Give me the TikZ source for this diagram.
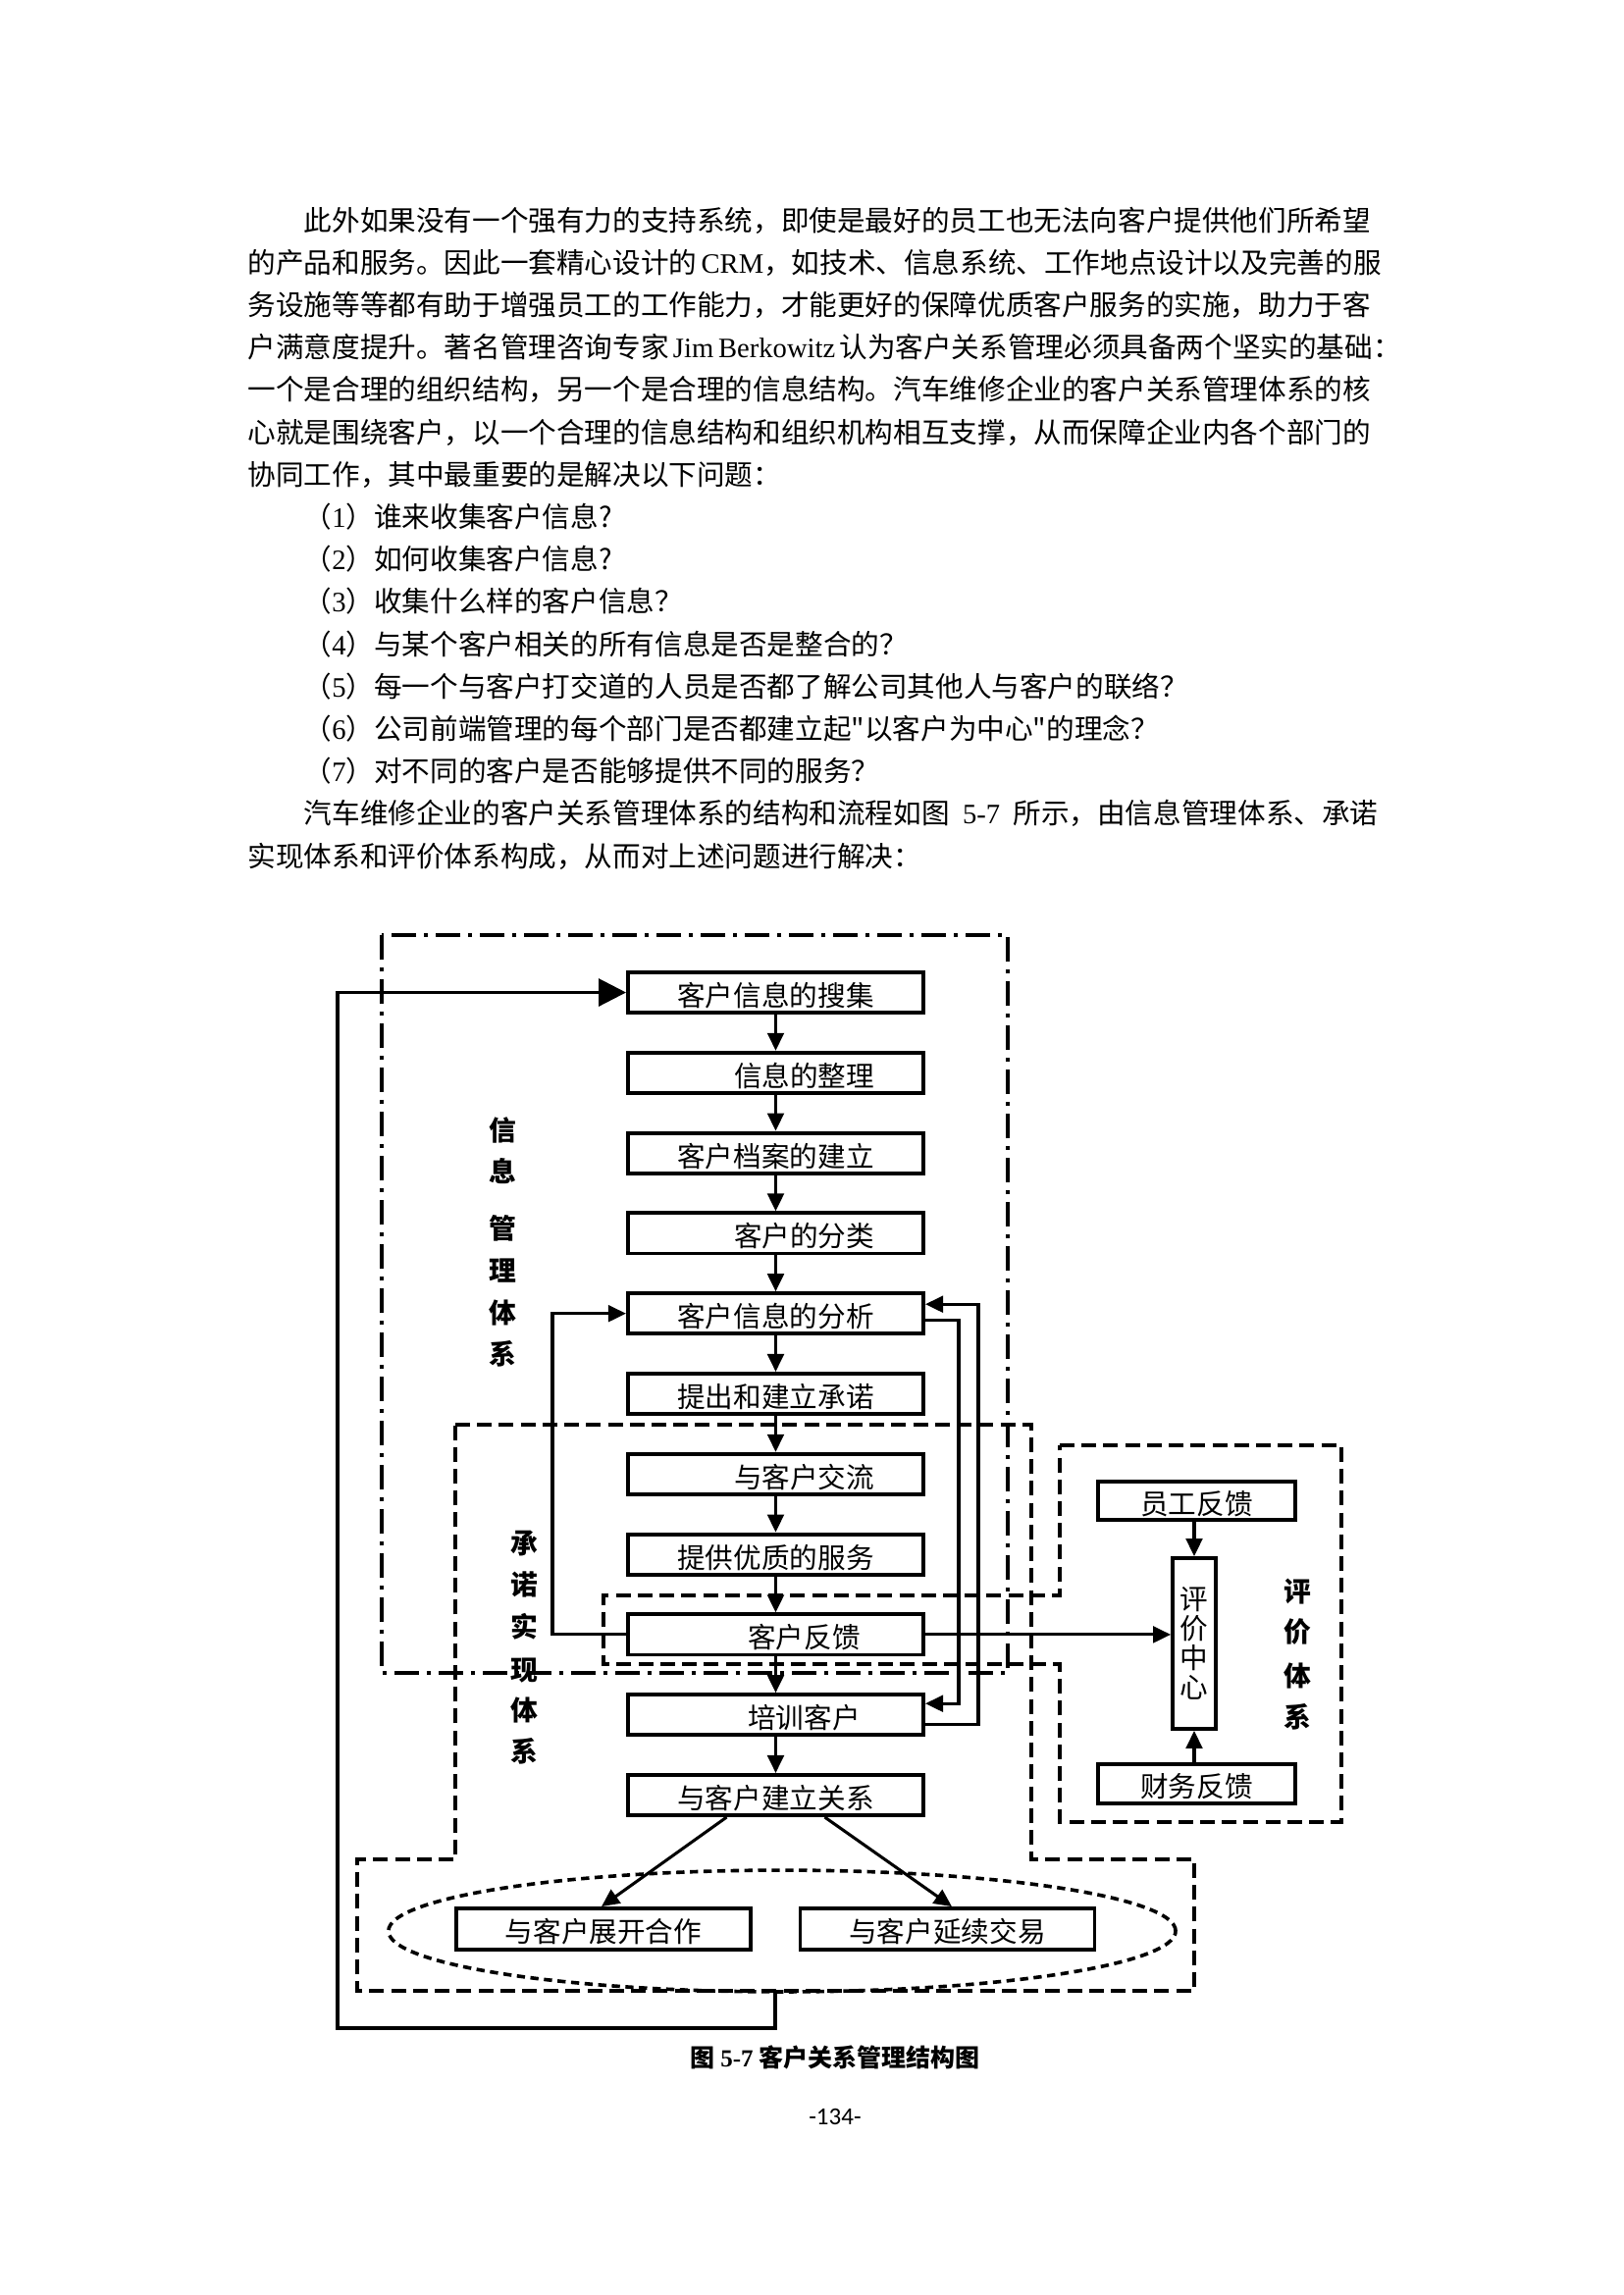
\documentclass[tikz,border=0pt]{standalone}
\usepackage{fontspec}
\setmainfont{Liberation Serif}
\newfontfamily\cjk{Noto Sans CJK SC}
\newfontfamily\pnum{Carlito}
\usetikzlibrary{arrows.meta,calc,shapes.geometric}
\XeTeXlinebreaklocale "zh"
\XeTeXlinebreakskip=0pt plus 2pt minus 0.6pt
\newcommand\jline[1]{\hbox to 414.7pt{#1}}
\newcommand\lat[1]{{\rmfamily #1}}
\newcommand\sh{\hspace*{20.9pt}}
\tikzset{
  txt/.style={anchor=base west, inner sep=0pt, font=\cjk\fontsize{10.3}{12}\selectfont},
  box/.style={draw, line width=1.4pt, inner sep=0pt, minimum width=108.4pt, minimum height=14.8pt,
    font=\cjk\fontsize{10.3}{12}\selectfont, text height=1em, text depth=0pt},
  arr/.style={line width=1.1pt, -{Triangle[length=6.5pt,width=6pt]}},
  bigarr/.style={line width=1.1pt, -{Triangle[length=10pt,width=10pt]}},
  ddot/.style={line width=1.3pt, dash pattern=on 9pt off 2.8pt on 1.6pt off 2.8pt},
  dsh/.style={line width=1.5pt, dash pattern=on 5.4pt off 2.6pt},
  dshell/.style={line width=1.3pt, dash pattern=on 3pt off 2pt},
  vlbl/.style={inner sep=0pt, font=\cjk\bfseries\fontsize{10}{12}\selectfont, text height=0.8em, text depth=0.05em},
}
\begin{document}
\begin{tikzpicture}[x=0.36pt,y=-0.36pt]
\fill[white] (0,0) rectangle (1654,2339);
\useasboundingbox (0,0) rectangle (1654,2339);

% ---------- text ----------
\node[txt] (p1) at (252,235) {\jline{\hspace*{2em}此外如果没有一个强有力的支持系统，即使是最好的员工也无法向客户提供他们所希望}};
\node[txt] (p2) at (252,278.2) {\jline{的产品和服务。因此一套精心设计的 \lat{CRM}，如技术、信息系统、工作地点设计以及完善的服}};
\node[txt] (p3) at (252,321.4) {\jline{务设施等等都有助于增强员工的工作能力，才能更好的保障优质客户服务的实施，助力于客}};
\node[txt] (p4) at (252,364.6) {\jline{户满意度提升。著名管理咨询专家 \lat{Jim Berkowitz} 认为客户关系管理必须具备两个坚实的基础：}};
\node[txt] (p5) at (252,407.8) {\jline{一个是合理的组织结构，另一个是合理的信息结构。汽车维修企业的客户关系管理体系的核}};
\node[txt] (p6) at (252,451) {\jline{心就是围绕客户，以一个合理的信息结构和组织机构相互支撑，从而保障企业内各个部门的}};
\node[txt] (p7) at (252,494.2) {协同工作，其中最重要的是解决以下问题：};
\node[txt] (q1) at (252,537.4) {\hspace*{2em}（\lat{1}）谁来收集客户信息?};
\node[txt] (q2) at (252,580.6) {\hspace*{2em}（\lat{2}）如何收集客户信息?};
\node[txt] (q3) at (252,623.8) {\hspace*{2em}（\lat{3}）收集什么样的客户信息？};
\node[txt] (q4) at (252,667) {\hspace*{2em}（\lat{4}）与某个客户相关的所有信息是否是整合的？};
\node[txt] (q5) at (252,710.2) {\hspace*{2em}（\lat{5}）每一个与客户打交道的人员是否都了解公司其他人与客户的联络？};
\node[txt] (q6) at (252,753.4) {\hspace*{2em}（\lat{6}）公司前端管理的每个部门是否都建立起"以客户为中心"的理念？};
\node[txt] (q7) at (252,796.6) {\hspace*{2em}（\lat{7}）对不同的客户是否能够提供不同的服务？};
\node[txt] (p8) at (252,839.8) {\jline{\hspace*{2em}汽车维修企业的客户关系管理体系的结构和流程如图 \lat{5-7} 所示，由信息管理体系、承诺}};
\node[txt] (p9) at (252,883) {实现体系和评价体系构成，从而对上述问题进行解决：};

% ---------- regions ----------
\draw[ddot] (389,953) rectangle (1027,1705);
\draw[dsh] (464,1452) -- (1051,1452) -- (1051,1895) -- (1217,1895) -- (1217,2029)
  -- (364,2029) -- (364,1895) -- (464,1895) -- cycle;
\draw[dsh] (1080,1473) -- (1367,1473) -- (1367,1857) -- (1080,1857) -- (1080,1696)
  -- (615,1696) -- (615,1626) -- (1080,1626) -- cycle;
\draw[dshell] (797,1968) ellipse [x radius=144.4pt, y radius=22.3pt];

% ---------- boxes ----------
\node[box] (b1) at (790.5,1011.5) {客户信息的搜集};
\node[box] (b2) at (790.5,1093.3) {\sh 信息的整理};
\node[box] (b3) at (790.5,1175.1) {客户档案的建立};
\node[box] (b4) at (790.5,1256.9) {\sh 客户的分类};
\node[box] (b5) at (790.5,1338.7) {客户信息的分析};
\node[box] (b6) at (790.5,1420.5) {提出和建立承诺};
\node[box] (b7) at (790.5,1502.3) {\sh 与客户交流};
\node[box] (b8) at (790.5,1584.1) {提供优质的服务};
\node[box] (b9) at (790.5,1665.9) {\sh 客户反馈};
\node[box] (b10) at (790.5,1747.7) {\sh 培训客户};
\node[box] (b11) at (790.5,1829.5) {与客户建立关系};
\node[box, minimum width=108pt, minimum height=15.1pt] (b12) at (615,1966) {与客户展开合作};
\node[box, minimum width=108pt, minimum height=15.1pt] (b13) at (965.5,1966) {与客户延续交易};

\node[box, minimum width=72.4pt, minimum height=14.2pt] (ygfk) at (1219.5,1529.5) {员工反馈};
\node[box, minimum width=72.4pt, minimum height=14.4pt] (cwfk) at (1219.5,1818) {财务反馈};
\node[box, minimum width=15.8pt, minimum height=62.6pt, align=center, text height={}, text depth={},
  font=\cjk\fontsize{10.3}{10.8}\selectfont] (pjzx) at (1217,1675) {评\\价\\中\\心};

% ---------- labels ----------
\foreach \c/\y [count=\i] in {信/1152,息/1194,管/1252,理/1295,体/1338,系/1380}
  \node[vlbl] (la\i) at (512,\y) {\c};
\foreach \c/\y [count=\i] in {承/1573,诺/1615,实/1658,现/1702,体/1743,系/1785}
  \node[vlbl] (lb\i) at (534,\y) {\c};
\foreach \c/\y [count=\i] in {评/1622,价/1663,体/1708,系/1750}
  \node[vlbl] (lc\i) at (1322,\y) {\c};

% ---------- connectors ----------
\foreach \a/\b in {b1/b2,b2/b3,b3/b4,b4/b5,b5/b6,b6/b7,b7/b8,b8/b9,b9/b10,b10/b11}
  \draw[arr] (\a.south) -- (\b.north);
\draw[arr] (b9.west) -- ++(-75,0) |- (b5.west);
\draw[arr] ($(b5.east)+(0,6.5)$) -| ($(b10.east)+(34,-11.5)$) -- ($(b10.east)+(0,-11.5)$);
\draw[arr] ($(b10.east)+(0,9.5)$) -| ($(b5.east)+(54,-9.5)$) -- ($(b5.east)+(0,-9.5)$);
\draw[arr] (b9.east) -- (b9.east -| pjzx.west);
\draw[arr] (ygfk.south -| pjzx.north) -- (pjzx.north);
\draw[arr] (cwfk.north -| pjzx.south) -- (pjzx.south);
\draw[arr] ($(b11.south)+(-50,0)$) -- ($(b12.north)+(-2,0)$);
\draw[arr] ($(b11.south)+(50,0)$) -- ($(b13.north)+(4.5,0)$);
\coordinate (fb) at (790,2029);
\coordinate (fbcorner) at (344,2067);
\draw[bigarr] (fb) |- (fbcorner) |- (b1.west);

% ---------- caption ----------
\node[inner sep=0pt, font=\cjk\bfseries\fontsize{9}{11}\selectfont] (cap) at (851,2097)
  {图 {\rmfamily\bfseries 5-7} 客户关系管理结构图};
\node[inner sep=0pt, font=\pnum\fontsize{9}{11}\selectfont] (pg) at (851,2157) {-134-};
\end{tikzpicture}
\end{document}
